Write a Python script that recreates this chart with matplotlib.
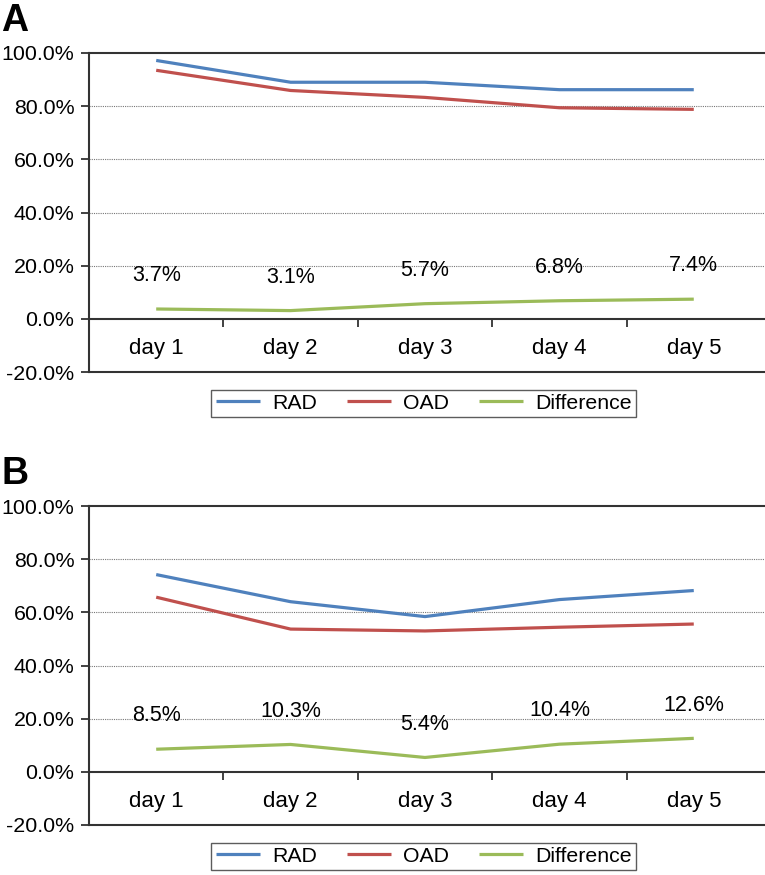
import matplotlib
matplotlib.use('Agg')
import matplotlib.pyplot as plt
from matplotlib.ticker import FixedLocator, FuncFormatter

plt.rcParams['font.family'] = ['Liberation Sans', 'DejaVu Sans']

# values (percent)
days = ['day 1', 'day 2', 'day 3', 'day 4', 'day 5']
rad_a = [97.2, 89.0, 89.0, 86.2, 86.2]
oad_a = [93.5, 85.9, 83.3, 79.4, 78.8]
diff_a = [3.7, 3.1, 5.7, 6.8, 7.4]
rad_b = [74.2, 64.0, 58.4, 64.8, 68.2]
oad_b = [65.7, 53.7, 53.0, 54.4, 55.6]
diff_b = [8.5, 10.3, 5.4, 10.4, 12.6]
yticks = [-20, 0, 20, 40, 60, 80, 100]

c_rad = '#4F81BD'
c_oad = '#C0504D'
c_diff = '#9BBB59'
dark = '#333333'

fig = plt.figure(figsize=(7.65, 8.75), dpi=100)
W, H = 765, 875


def panel(top_px, rad, oad, diff, letter, letter_y):
    left = 89
    ax = fig.add_axes([left / W, (H - top_px - 319) / H, (W - left) / W, 319 / H])
    x = range(len(days))
    ax.plot(x, rad, color=c_rad, lw=2.3, label='RAD', solid_capstyle='butt')
    ax.plot(x, oad, color=c_oad, lw=2.3, label='OAD', solid_capstyle='butt')
    ax.plot(x, diff, color=c_diff, lw=2.3, label='Difference', solid_capstyle='butt')
    for i, d in enumerate(diff):
        ax.annotate('%.1f%%' % d, (i, d), xytext=(0, 24), textcoords='offset points',
                    ha='center', va='center', fontsize=15.5)

    ax.set_xlim(-0.5, 4.53)
    ax.set_ylim(-20, 100)
    ax.yaxis.set_major_locator(FixedLocator(yticks))
    ax.yaxis.set_major_formatter(FuncFormatter(lambda v, p: '%.1f%%' % v))
    ax.tick_params(axis='y', direction='out', length=6, width=1.3, color=dark,
                   labelsize=15.4, pad=4.5)
    for g in [20, 40, 60, 80]:
        ax.axhline(g, color='#777777', lw=0.8, ls=(0, (1, 1)), zorder=0)

    # category axis sits on the zero line
    ax.spines['bottom'].set_position(('data', 0))
    ax.set_xticks(range(len(days)))
    ax.set_xticklabels(days, fontsize=16)
    ax.set_xticks([0.5, 1.5, 2.5, 3.5], minor=True)
    ax.tick_params(axis='x', which='major', length=0, pad=14)
    ax.tick_params(axis='x', which='minor', direction='out', length=6, width=1.3, color=dark)
    ax.axhline(-20, color=dark, lw=1.5, clip_on=False)
    for s in ['left', 'top', 'bottom']:
        ax.spines[s].set_color(dark)
        ax.spines[s].set_linewidth(1.5)
    ax.spines['right'].set_visible(False)

    leg = ax.legend(loc='upper center', bbox_to_anchor=(0.495, -0.055), ncol=3,
                    fontsize=15.3, frameon=True, fancybox=False, borderaxespad=0,
                    handlelength=2.1, handletextpad=0.55, columnspacing=1.4,
                    borderpad=0.2)
    leg.get_frame().set_edgecolor(dark)
    leg.get_frame().set_linewidth(1.0)

    fig.text(1 / W, 1 - letter_y / H, letter, fontsize=27, fontweight='bold', va='top', ha='left')
    return ax


panel(53, rad_a, oad_a, diff_a, 'A', 3)
panel(506, rad_b, oad_b, diff_b, 'B', 456)

fig.savefig('out.png', dpi=100)
